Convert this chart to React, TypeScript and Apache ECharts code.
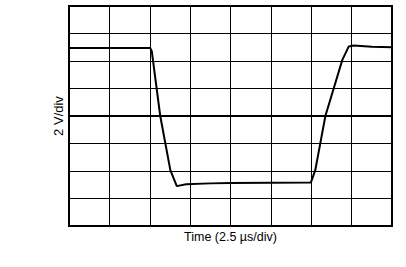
import React, { useEffect, useRef } from "react";
import * as echarts from "echarts";

// Trace samples, in divisions (x: time div 0..8, y: voltage div -4..4)
const timeDiv = [0, 1.5, 2.01, 2.05, 2.26, 2.51, 2.67, 2.9, 3.5, 4.0, 5.0, 5.99, 6.1, 6.35, 6.77, 6.93, 7.05, 7.5, 8.0];
const voltDiv = [2.47, 2.47, 2.47, 2.36, 0.0, -1.97, -2.55, -2.48, -2.45, -2.44, -2.43, -2.42, -1.97, 0.0, 2.04, 2.53, 2.56, 2.52, 2.5];

const xAxisTitle = "Time (2.5 µs/div)";
const yAxisTitle = "2 V/div";

export default function App() {
  const ref = useRef<HTMLDivElement>(null);
  useEffect(() => {
    if (!ref.current) return;
    const chart = echarts.init(ref.current, undefined, { renderer: "svg" });
    const data = timeDiv.map((t, i) => [t, voltDiv[i]]);
    chart.setOption({
      animation: false,
      backgroundColor: "#ffffff",
      grid: {
        left: 69,
        top: 6,
        right: 14,
        bottom: 41,
        show: true,
        borderColor: "#000",
        borderWidth: 2,
      },
      xAxis: {
        type: "value",
        min: 0,
        max: 8,
        interval: 1,
        axisLine: { show: false },
        axisTick: { show: false },
        axisLabel: { show: false },
        splitLine: { show: true, lineStyle: { color: "#000", width: 1 } },
        name: xAxisTitle,
        nameLocation: "middle",
        nameGap: 4,
        nameTextStyle: { fontFamily: "Liberation Sans", fontSize: 12.5, color: "#000", verticalAlign: "top" },
      },
      yAxis: {
        type: "value",
        min: -4,
        max: 4,
        interval: 1,
        axisLine: { show: false },
        axisTick: { show: false },
        axisLabel: { show: false },
        splitLine: { show: true, lineStyle: { color: "#000", width: 1 } },
        name: yAxisTitle,
        nameLocation: "middle",
        nameGap: 4,
        nameTextStyle: { fontFamily: "Liberation Sans", fontSize: 13, color: "#000" },
      },
      series: [
        {
          type: "line",
          data,
          symbol: "none",
          lineStyle: { color: "#000", width: 2 },
          markLine: {
            silent: true,
            symbol: "none",
            label: { show: false },
            lineStyle: { color: "#000", width: 2, type: "solid" },
            data: [{ yAxis: 0 }],
          },
        },
      ],
    });
    return () => chart.dispose();
  }, []);
  return <div ref={ref} style={{ width: 406, height: 267, position: "absolute", left: 0, top: 0 }} />;
}
